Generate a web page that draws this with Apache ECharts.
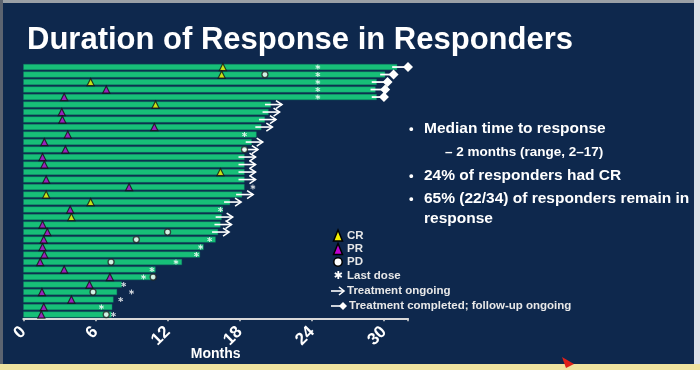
<!DOCTYPE html>
<html><head><meta charset="utf-8">
<script src="https://cdn.jsdelivr.net/npm/echarts@6/dist/echarts.min.js"></script>
<style>html,body{margin:0;padding:0;background:#0E284D}#c{width:700px;height:370px}</style>
</head><body><div id="c"></div>
<script>
// ---- data ----
const titleText = 'Duration of Response in Responders';
const xTicks = [0, 6, 12, 18, 24, 30];
const xName = 'Months';
const patients = Array.from({length: 34}, (_, i) => 'P' + (i + 1));
// end of each response bar (months), top to bottom
const barEnd = [31.1, 30.1, 29.4, 29.3, 29.4, 20.6, 20.4, 20.1, 19.8, 19.4,
                19.0, 18.6, 18.4, 18.4, 18.4, 18.4, 18.4, 18.2, 17.2, 16.6,
                16.5, 16.4, 16.2, 16.0, 15.0, 14.7, 13.2, 11.0, 10.95, 8.2,
                7.8, 7.5, 7.4, 7.35];
// [month, row]
const crPoints = [[16.6,0],[16.5,1],[5.6,2],[11.0,5],[16.4,14],[1.9,17],[5.6,18],[4.0,20]];
const prPoints = [[6.9,3],[3.4,4],[3.2,6],[3.25,7],[10.9,8],[3.7,9],[1.75,10],[3.5,11],[1.6,12],
                  [1.75,13],[1.9,15],[8.8,16],[3.9,19],[1.6,21],[2.0,22],[1.7,23],[1.6,24],
                  [1.75,25],[1.4,26],[3.4,27],[7.2,28],[5.5,29],[1.55,30],[4.0,31],[1.7,32],[1.5,33]];
const pdPoints = [[20.1,1],[18.4,11],[12.0,22],[9.4,23],[7.3,26],[10.8,28],[5.8,30],[6.9,33]];
const lastDosePoints = [[24.5,0],[24.5,1],[24.5,2],[24.5,3],[24.5,4],[18.4,9],[19.1,16],[16.4,19],
                        [15.5,23],[14.75,24],[14.4,25],[12.7,26],[10.7,27],[10.0,28],[8.35,29],
                        [9.0,30],[8.1,31],[6.5,32],[7.5,33]];
const ongoingRows = [5,6,7,8,10,11,12,13,14,15,17,18,20,21,22];
// [row, month of diamond]
const completedRows = [[0,32.0],[1,30.8],[2,30.3],[3,30.1],[4,30.0]];
const bullets = ['Median time to response', '2 months (range, 2\u201317)', '24% of responders had CR',
                 '65% (22/34) of responders remain in', 'response'];
const legendItems = ['CR', 'PR', 'PD', 'Last dose', 'Treatment ongoing', 'Treatment completed; follow-up ongoing'];

// ---- chart ----
const FONT = '"Liberation Sans", Arial, sans-serif';
const asteriskPath = 'path://M4,0h2v10h-2z M0.2,3.3l1,-1.7l8.6,5l-1,1.7z M0.2,6.7l8.6,-5l1,1.7l-8.6,5z';
const chart = echarts.init(document.getElementById('c'), null, {renderer: 'canvas'});

function arrowItem(params, api) {
  const p = api.coord([api.value(0), api.value(1)]);
  const x = p[0], y = p[1];
  return {type: 'group', children: [
    {type: 'line', shape: {x1: x - 6, y1: y, x2: x + 11, y2: y}, style: {stroke: '#ffffff', lineWidth: 1.6}},
    {type: 'polyline', shape: {points: [[x + 5, y - 4], [x + 11, y], [x + 5, y + 4]]},
     style: {stroke: '#ffffff', lineWidth: 1.6, fill: null}}
  ]};
}
function doneItem(params, api) {
  const p0 = api.coord([api.value(0), api.value(1)]);
  const p1 = api.coord([api.value(2), api.value(1)]);
  const y = p0[1], xd = p1[0], s = 5;
  return {type: 'group', children: [
    {type: 'line', shape: {x1: p0[0] - 5, y1: y, x2: xd, y2: y}, style: {stroke: '#ffffff', lineWidth: 1.8}},
    {type: 'polygon', shape: {points: [[xd - s, y], [xd, y - s], [xd + s, y], [xd, y + s]]},
     style: {fill: '#ffffff'}}
  ]};
}

const legendY = [236, 249, 262, 276, 291, 306];
const graphics = [
  {type: 'rect', shape: {x: 0, y: 0, width: 700, height: 3}, style: {fill: '#9aa0a6'}, silent: true},
  {type: 'rect', shape: {x: 0, y: 0, width: 3, height: 370}, style: {fill: '#5c6470'}, silent: true},
  {type: 'rect', shape: {x: 694, y: 0, width: 6, height: 370}, style: {fill: '#dfe3e8'}, silent: true},
  {type: 'rect', shape: {x: 0, y: 364, width: 700, height: 6}, style: {fill: '#efe3a0'}, silent: true},
  {type: 'polygon', shape: {points: [[562, 357], [574, 364], [566, 368]]}, style: {fill: '#e0201a'}, silent: true},
  {type: 'text', left: 27, top: 25, style: {text: titleText, fill: '#ffffff', font: 'bold 31px ' + FONT}},
  // bullets
  {type: 'text', x: 409, y: 129, style: {text: '\u2022', fill: '#fff', font: 'bold 13px ' + FONT, textVerticalAlign: 'middle'}},
  {type: 'text', x: 424, y: 129, style: {text: bullets[0], fill: '#fff', font: 'bold 15.5px ' + FONT, textVerticalAlign: 'middle'}},
  {type: 'text', x: 445, y: 152, style: {text: '\u2013 ' + bullets[1], fill: '#fff', font: 'bold 13.5px ' + FONT, textVerticalAlign: 'middle'}},
  {type: 'text', x: 409, y: 176, style: {text: '\u2022', fill: '#fff', font: 'bold 13px ' + FONT, textVerticalAlign: 'middle'}},
  {type: 'text', x: 424, y: 176, style: {text: bullets[2], fill: '#fff', font: 'bold 15.5px ' + FONT, textVerticalAlign: 'middle'}},
  {type: 'text', x: 409, y: 199, style: {text: '\u2022', fill: '#fff', font: 'bold 13px ' + FONT, textVerticalAlign: 'middle'}},
  {type: 'text', x: 424, y: 199, style: {text: bullets[3], fill: '#fff', font: 'bold 15.5px ' + FONT, textVerticalAlign: 'middle'}},
  {type: 'text', x: 424, y: 219, style: {text: bullets[4], fill: '#fff', font: 'bold 15.5px ' + FONT, textVerticalAlign: 'middle'}},
  // legend symbols
  {type: 'polygon', shape: {points: [[338, 230], [333.5, 241], [342.5, 241]]}, style: {fill: '#f2ee00', stroke: '#000', lineWidth: 1.5}},
  {type: 'polygon', shape: {points: [[338, 243.5], [333.5, 254.5], [342.5, 254.5]]}, style: {fill: '#c000d0', stroke: '#000', lineWidth: 1.5}},
  {type: 'circle', shape: {cx: 338, cy: 262, r: 4.2}, style: {fill: '#fff', stroke: '#000', lineWidth: 1.5}},
  {type: 'text', x: 338, y: 276.5, style: {text: '\u2731', fill: '#fff', font: 'bold 11px "DejaVu Sans", sans-serif', textAlign: 'center', textVerticalAlign: 'middle'}},
  {type: 'line', shape: {x1: 331, y1: 291, x2: 344, y2: 291}, style: {stroke: '#fff', lineWidth: 1.6}},
  {type: 'polyline', shape: {points: [[339, 287], [344, 291], [339, 295]]}, style: {stroke: '#fff', lineWidth: 1.6, fill: null}},
  {type: 'line', shape: {x1: 331, y1: 306, x2: 343, y2: 306}, style: {stroke: '#fff', lineWidth: 1.6}},
  {type: 'polygon', shape: {points: [[339, 306], [343, 302], [347, 306], [343, 310]]}, style: {fill: '#fff'}}
];
const legendX = [347, 347, 347, 347, 347, 349];
legendItems.forEach((t, i) => graphics.push({type: 'text', x: legendX[i], y: legendY[i],
  style: {text: t, fill: '#e8e8e8', font: 'bold 11.5px ' + FONT, textVerticalAlign: 'middle'}}));

const option = {
  backgroundColor: '#0E284D',
  animation: false,
  grid: {left: 23.3, top: 63.3, width: 384.7, height: 255, containLabel: false, outerBoundsMode: 'none'},
  xAxis: {
    type: 'value', min: 0, max: 32, interval: 6,
    axisLine: {show: true, lineStyle: {color: '#d9d9d9', width: 2}},
    axisTick: {show: true, length: 3, lineStyle: {color: '#d9d9d9', width: 1.5}},
    splitLine: {show: false},
    axisLabel: {color: '#ffffff', fontSize: 17, fontWeight: 'bold', fontFamily: FONT, rotate: 45, margin: 11,
      formatter: v => xTicks.indexOf(v) >= 0 ? String(v) : ''},
    name: xName, nameLocation: 'middle', nameGap: 29, nameMoveOverlap: false,
    nameTextStyle: {color: '#ffffff', fontSize: 14, fontWeight: 'bold', fontFamily: FONT}
  },
  yAxis: {
    type: 'category', data: patients, inverse: true,
    axisLine: {show: false}, axisTick: {show: false}, axisLabel: {show: false}, splitLine: {show: false}
  },
  series: [
    {type: 'bar', data: barEnd, barWidth: 6, itemStyle: {color: '#17BF78', borderColor: '#0d7a62', borderWidth: 0.4}, z: 1},
    {type: 'custom', renderItem: arrowItem, data: ongoingRows.map(r => [barEnd[r], r]), z: 3},
    {type: 'custom', renderItem: doneItem, data: completedRows.map(d => [barEnd[d[0]], d[0], d[1]]),
     encode: {x: [0, 2], y: 1}, z: 3},
    {type: 'scatter', data: lastDosePoints, symbol: asteriskPath, symbolSize: 5, itemStyle: {color: '#ffffff'}, z: 4},
    {type: 'scatter', data: pdPoints, symbol: 'circle', symbolSize: 6, itemStyle: {color: '#ffffff', borderColor: '#222', borderWidth: 1.3}, z: 4},
    {type: 'scatter', data: crPoints, symbol: 'triangle', symbolSize: 7, itemStyle: {color: '#f2ee00', borderColor: '#111', borderWidth: 1.2}, z: 5},
    {type: 'scatter', data: prPoints, symbol: 'triangle', symbolSize: 7, itemStyle: {color: '#b800cc', borderColor: '#111', borderWidth: 1.2}, z: 5}
  ],
  graphic: graphics
};
chart.setOption(option);
</script></body></html>
